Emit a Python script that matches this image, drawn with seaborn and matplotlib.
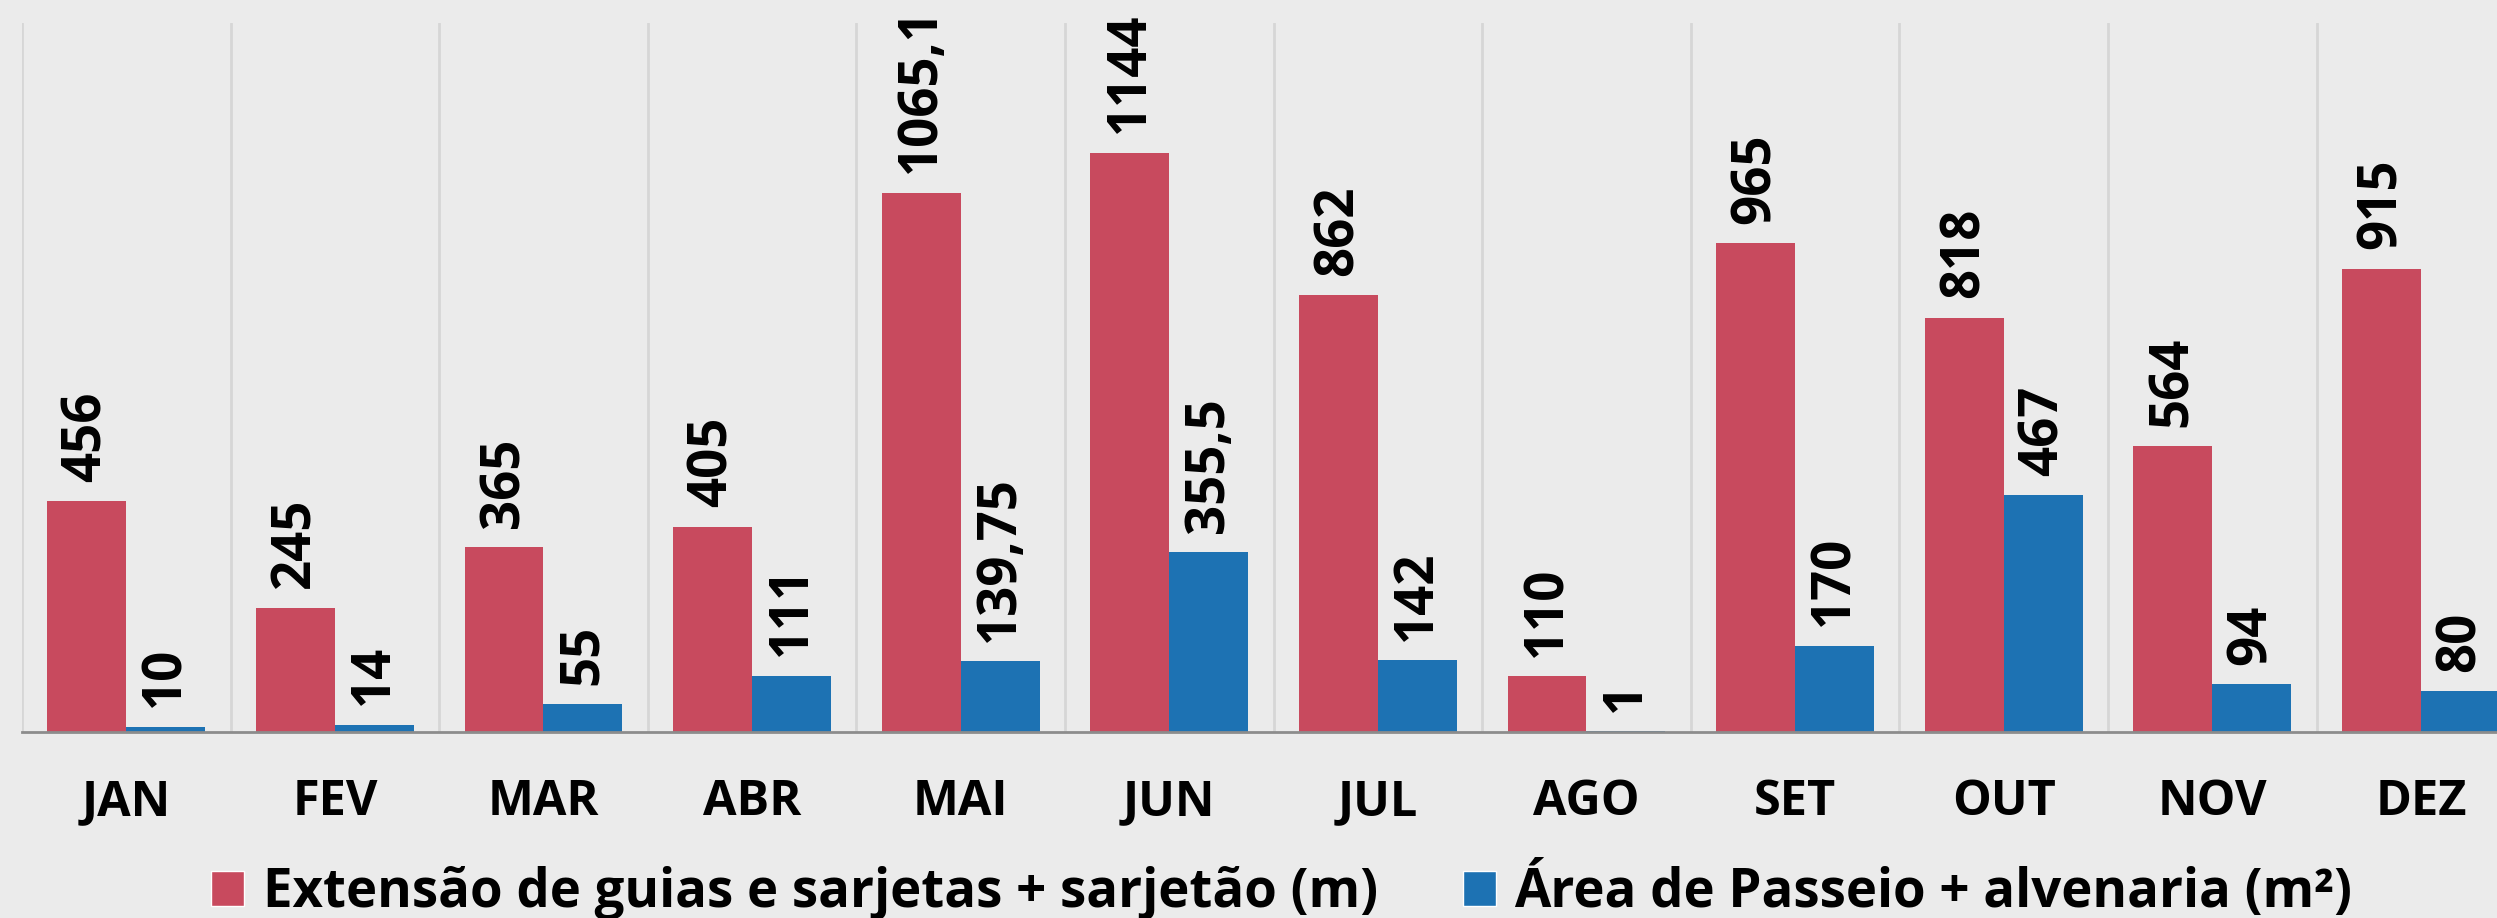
import pandas as pd
import numpy as np
import matplotlib.pyplot as plt
import seaborn as sns
from matplotlib.ticker import FixedLocator
from matplotlib.patches import Patch

# dados mensais
meses = ["JAN", "FEV", "MAR", "ABR", "MAI", "JUN", "JUL", "AGO", "SET", "OUT", "NOV", "DEZ"]
guias = [456, 245, 365, 405, 1065.1, 1144, 862, 110, 965, 818, 564, 915]
passeio = [10, 14, 55, 111, 139.75, 355.5, 142, 1, 170, 467, 94, 80]
serie_1 = "Extensão de guias e sarjetas + sarjetão (m)"
serie_2 = "Área de Passeio + alvenaria (m²)"

cores = {serie_1: "#C84A5E", serie_2: "#1D72B3"}

df = pd.DataFrame({
    "Mes": meses * 2,
    "Valor": guias + passeio,
    "Serie": [serie_1] * len(meses) + [serie_2] * len(meses),
})

sns.set_style("white")
plt.rcParams['font.family'] = ['Open Sans', 'DejaVu Sans']
plt.rcParams['font.weight'] = 'bold'
plt.rcParams['text.color'] = 'black'

fig = plt.figure(figsize=(24.97, 9.18), dpi=100)
fig.patch.set_facecolor("#EBEBEB")
ax = fig.add_axes([22 / 2497, 186 / 918, 1 - 22 / 2497, 709 / 918])
ax.set_facecolor("#EBEBEB")

sns.barplot(data=df, x="Mes", y="Valor", hue="Serie", order=meses,
            hue_order=[serie_1, serie_2], palette=cores, width=0.757,
            linewidth=0, saturation=1, ax=ax, legend=False)

def fmt(v):
    s = ("%.2f" % v).rstrip("0").rstrip(".")
    return s.replace(".", ",")

for cont, vals in zip(ax.containers, [guias, passeio]):
    ax.bar_label(cont, labels=[fmt(v) for v in vals], rotation=90, padding=14,
                 fontsize=38, fontweight='bold', color="black")

ax.set_ylim(0, 1400)
ax.set_xlim(-0.5, 11.365)
ax.set_yticks([])
ax.set_xlabel("")
ax.set_ylabel("")

ax.xaxis.set_minor_locator(FixedLocator(np.arange(-0.5, 12, 1)))
ax.grid(which="minor", axis="x", color="#D6D6D6", linewidth=2)
ax.tick_params(axis="x", which="major", length=0, pad=33, labelsize=35, labelcolor="black")
ax.tick_params(axis="x", which="minor", length=12, width=2, color="#8C8C8C", direction="out")
for lab in ax.get_xticklabels():
    lab.set_fontweight('bold')

for s in ["top", "right", "left"]:
    ax.spines[s].set_visible(False)
ax.spines["bottom"].set_color("#8C8C8C")
ax.spines["bottom"].set_linewidth(2)

handles = [Patch(facecolor=cores[serie_1], label=serie_1),
           Patch(facecolor=cores[serie_2], label=serie_2)]
fig.legend(handles=handles, loc="center", bbox_to_anchor=(1282 / 2497, 1 - 891 / 918),
           ncol=2, frameon=False, prop={'size': 38, 'weight': 'bold'},
           handlelength=0.62, handleheight=0.62, handletextpad=0.36,
           columnspacing=1.6, borderpad=0, borderaxespad=0)

fig.savefig("out.png", dpi=100, facecolor=fig.get_facecolor())
